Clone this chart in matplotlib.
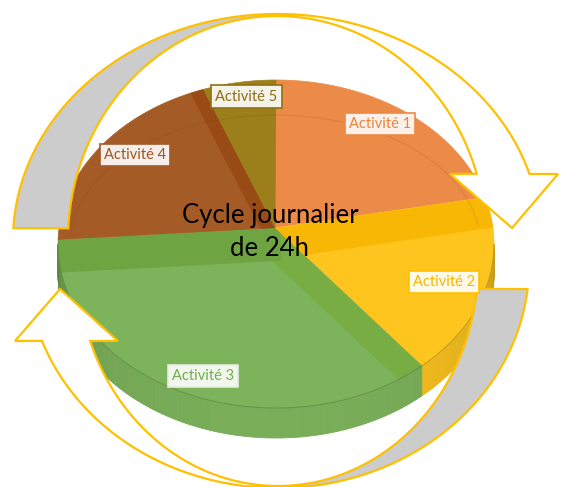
import numpy as np
import matplotlib.pyplot as plt
from matplotlib.patches import Polygon

# slices of the day (hours, clockwise from 12 o'clock)
activities = ['Activité 1', 'Activité 2', 'Activité 3', 'Activité 4', 'Activité 5']
hours = [4.9, 4.3, 8.9, 4.6, 1.3]
title = 'Cycle journalier\nde 24h'

face_colors = ['#EC8B48', '#FEC51F', '#7DB35B', '#A55B26', '#9C7E1A']
text_colors = ['#E8843E', '#F2B705', '#72AB4D', '#9E5424', '#8A6F10']
box_faces = ['#FCF0E8', '#FFF9E8', '#F2F7EE', '#F6EEE9', '#F5F2EA']
box_edges = ['#ED8A45', '#FFC000', '#E4EEDC', '#A35A2A', '#8E7212']

# pie geometry in pixel space
CX, CY, RX, RY = 276, 244, 218, 164
APEX = np.array([275.0, 228.0])
DEPTH = 30


def rim(t0, t1, dy=0, n=100):
    t = np.radians(np.linspace(t0, t1, n))
    return np.column_stack([CX + RX * np.cos(t), CY - RY * np.sin(t) + dy])


def arc(cx, cy, rx, ry, t0, t1, n=150):
    t = np.radians(np.linspace(t0, t1, n))
    return np.column_stack([cx + rx * np.cos(t), cy - ry * np.sin(t)])


def shade(color, f):
    c = np.array(plt.matplotlib.colors.to_rgb(color))
    return tuple(np.clip(c * f, 0, 1))


fig = plt.figure(figsize=(5.66, 4.87), dpi=100)
ax = fig.add_axes([0, 0, 1, 1])
ax.set_xlim(0, 566)
ax.set_ylim(487, 0)
ax.axis('off')

fracs = np.array(hours) / sum(hours)
bounds = 90 - np.concatenate([[0], np.cumsum(fracs)]) * 360

# side of the cylinder (front half only)
for i in range(len(hours)):
    t_start, t_end = bounds[i], bounds[i + 1]
    lo, hi = max(t_end, -180), min(t_start, 0)
    if lo >= hi:
        continue
    ts = np.linspace(hi, lo, int(hi - lo) + 2)
    for a, b in zip(ts[:-1], ts[1:]):
        m = np.radians((a + b) / 2)
        f = 0.72 + 0.25 * np.sqrt(abs(np.sin(m)))
        top = rim(a, b, n=2)
        quad = np.vstack([top, top[::-1] + [0, DEPTH]])
        c = shade(face_colors[i], f)
        ax.add_patch(Polygon(quad, closed=True, facecolor=c, edgecolor=c, lw=0.6, zorder=1))

# top face wedges
wedges = []
for i in range(len(hours)):
    pts = np.vstack([APEX, rim(bounds[i], bounds[i + 1])])
    p = Polygon(pts, closed=True, facecolor=face_colors[i], edgecolor=face_colors[i], lw=0.5, zorder=2)
    ax.add_patch(p)
    wedges.append(p)

# bevel strips along some slice edges (slice, edge, width, colour)
bevels = [(1, 0, 31, '#F8B704'), (2, 0, 26, '#78AD43'), (2, 1, 33, '#6FA443'), (3, 1, 13, '#984B14')]
for i, edge, w, col in bevels:
    tb = bounds[i + edge]
    p1 = rim(tb, tb, n=1)[0]
    d = (p1 - APEX) / np.linalg.norm(p1 - APEX)
    n = np.array([-d[1], d[0]])
    mid = rim((bounds[i] + bounds[i + 1]) / 2, 0, n=1)[0]
    if np.dot(mid - APEX, n) < 0:
        n = -n
    strip = np.array([APEX - d * 5, p1 + d * 5, p1 + d * 5 + n * w, APEX - d * 5 + n * w])
    s = Polygon(strip, closed=True, facecolor=col, edgecolor='none', zorder=3)
    ax.add_patch(s)
    s.set_clip_path(wedges[i])

# faint bevel ring and rim line
ring = arc(275, 244, 205, 129, 8, 176)
ax.plot(ring[:, 0], ring[:, 1], color='#7A3A10', alpha=0.15, lw=0.8, zorder=3)
edge = rim(-180, 0)
ax.plot(edge[:, 0], edge[:, 1], color='#3E5A25', alpha=0.35, lw=0.7, zorder=3)

# circular arrows
yellow = '#FFC000'
# upper arrow
grey_up = np.vstack([arc(277, 240, 264, 226, 90, 177), arc(277, 240, 209, 224, 177, 90)])
ax.add_patch(Polygon(grey_up, closed=True, facecolor='#CCCCCC', edgecolor=yellow, lw=1.6, zorder=5))
white_up = np.vstack([arc(277, 240, 264, 226, 90, 17),
                      [[558, 174], [512, 228], [450, 174]],
                      arc(277, 240, 209, 224, 17.2, 90)])
ax.add_patch(Polygon(white_up, closed=True, facecolor='white', edgecolor=yellow, lw=1.6, zorder=5))
# lower arrow
grey_lo = np.vstack([arc(278, 265, 251, 223, -6.2, -90), arc(278, 265, 200, 221, -90, -6.2)])
ax.add_patch(Polygon(grey_lo, closed=True, facecolor='#CCCCCC', edgecolor=yellow, lw=1.6, zorder=5))
white_lo = np.vstack([arc(278, 265, 251, 223, -90, -160.1),
                      [[15, 341], [60, 289], [118, 341]],
                      arc(278, 265, 200, 221, -159.9, -90)])
ax.add_patch(Polygon(white_lo, closed=True, facecolor='white', edgecolor=yellow, lw=1.6, zorder=5))

# data labels
for i, name in enumerate(activities):
    m = np.radians((bounds[i] + bounds[i + 1]) / 2)
    lx = CX + 0.80 * RX * np.cos(m)
    ly = 242 - 0.90 * RY * np.sin(m)
    ax.text(lx, ly, name, ha='center', va='center', fontsize=10.5, family='Lato',
            color=text_colors[i], zorder=7,
            bbox=dict(boxstyle='square,pad=0.28', facecolor=box_faces[i],
                      edgecolor=box_edges[i], lw=1.2))

ax.text(270, 232, title, ha='center', va='center', multialignment='center',
        fontsize=18.5, family='Lato', color='black', linespacing=1.35, zorder=8)

fig.savefig('out.png', dpi=100)
